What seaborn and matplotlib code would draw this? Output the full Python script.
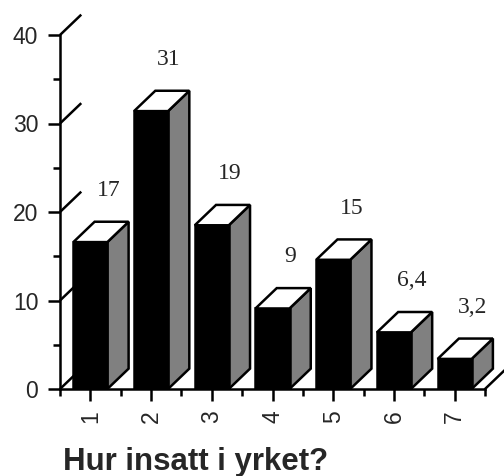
import numpy as np
import pandas as pd
import matplotlib
matplotlib.use("Agg")
import matplotlib.pyplot as plt
from matplotlib.patches import Polygon
import seaborn as sns

# data
categories = ["1", "2", "3", "4", "5", "6", "7"]
values = [16.6, 31.4, 18.5, 9.1, 14.6, 6.4, 3.4]
value_labels = ["17", "31", "19", "9", "15", "6,4", "3,2"]
y_ticks = [0, 10, 20, 30, 40]
y_minor = [5, 15, 25, 35]
title = "Hur insatt i yrket?"

sns.set_style("ticks")
plt.rcParams["font.family"] = ["Liberation Sans", "DejaVu Sans"]

# fake 3D depth of the old Excel style columns
DX = 0.35   # in categories
DY = 2.3    # in value units
LW = 1.8

fig = plt.figure(figsize=(5.04, 4.76), dpi=100)
ax = fig.add_axes([60 / 504, 87 / 476, 425 / 504, 354 / 476])

df = pd.DataFrame({"kategori": categories, "andel": values})
sns.barplot(data=df, x="kategori", y="andel", color="black", saturation=1,
            width=0.56, edgecolor="black", linewidth=LW, ax=ax, zorder=3)

ax.set_xlim(-0.5, len(categories) - 0.5)
ax.set_ylim(0, 40)

# depth lines of the side wall and floor
for v in y_ticks:
    ax.plot([-0.5, -0.5 + DX], [v, v + DY], color="black", lw=LW,
            clip_on=False, zorder=1, solid_capstyle="butt")
ax.plot([len(categories) - 0.5, len(categories) - 0.5 + DX], [0, DY],
        color="black", lw=LW, clip_on=False, zorder=1)

# side and top faces, built from the bars seaborn drew
for p, lab in zip(ax.patches, value_labels):
    x0, w, h = p.get_x(), p.get_width(), p.get_height()
    side = Polygon([(x0 + w, 0), (x0 + w + DX, DY), (x0 + w + DX, h + DY), (x0 + w, h)],
                   closed=True, facecolor="#808080", edgecolor="black", lw=LW,
                   zorder=2, clip_on=False, joinstyle="miter")
    top = Polygon([(x0, h), (x0 + DX, h + DY), (x0 + w + DX, h + DY), (x0 + w, h)],
                  closed=True, facecolor="white", edgecolor="black", lw=LW,
                  zorder=4, clip_on=False, joinstyle="miter")
    ax.add_patch(side)
    ax.add_patch(top)
    ax.annotate(lab, (x0 + w / 2 + DX * 0.85, h + DY), xytext=(0, 15),
                textcoords="offset points", ha="center", va="bottom",
                fontsize=17, family=["Liberation Serif", "DejaVu Serif"],
                annotation_clip=False)

sns.despine(ax=ax)
for s in ["left", "bottom"]:
    ax.spines[s].set_linewidth(LW)
    ax.spines[s].set_color("black")

ax.set_yticks(y_ticks)
ax.set_yticks(y_minor, minor=True)
ax.set_xticks(np.arange(-0.5, len(categories)), minor=True)
ax.tick_params(axis="both", which="major", length=8.6, width=LW, color="black",
               labelsize=16.5, direction="out")
ax.tick_params(axis="both", which="minor", length=5, width=LW, color="black",
               direction="out")
ax.tick_params(axis="y", pad=7)
ax.tick_params(axis="x", pad=7, labelrotation=90)
ax.set_xlabel("")
ax.set_ylabel("")

fig.text(63 / 504, 6 / 476, title, fontsize=22.5, fontweight="bold",
         ha="left", va="baseline")

fig.savefig("out.png", dpi=100, facecolor="white")
